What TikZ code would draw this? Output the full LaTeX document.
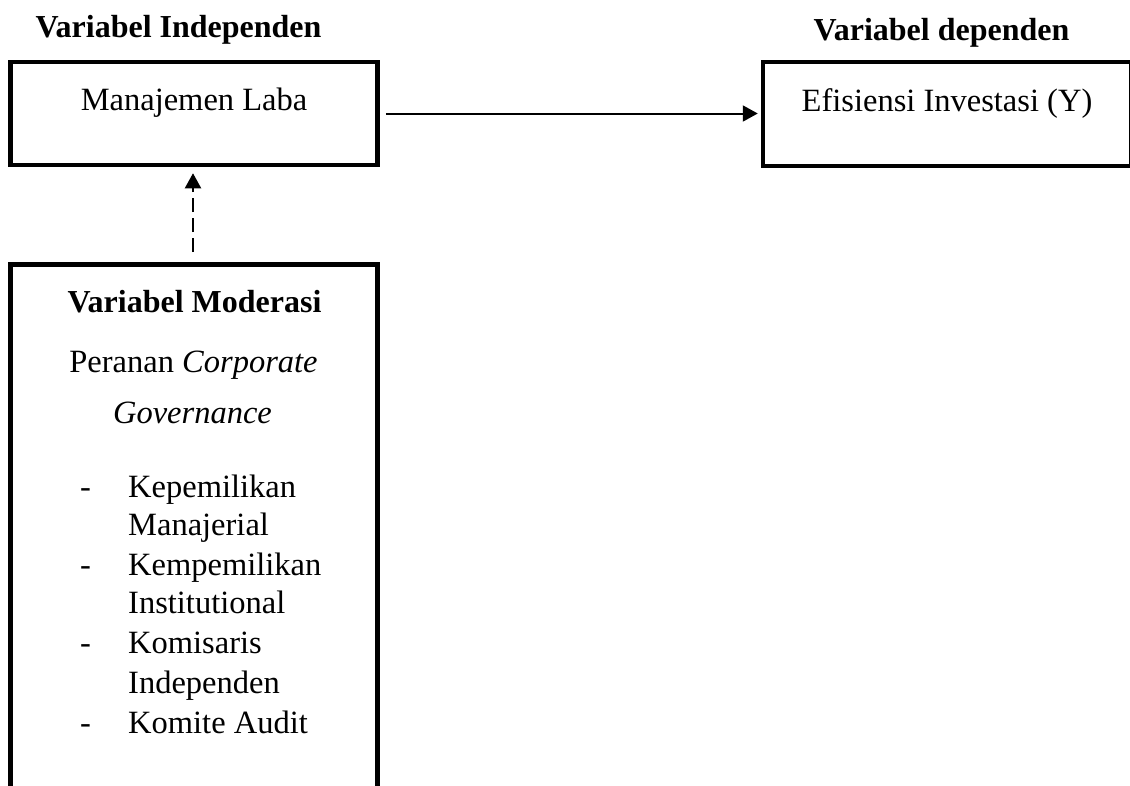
\documentclass[tikz,border=0pt]{standalone}
\usepackage{fontspec}
\setmainfont{Liberation Serif}
\usetikzlibrary{positioning,arrows.meta}

\begin{document}
\begin{tikzpicture}[x=1pt, y=-1pt,
  varbox/.style = {draw, line width = 4.5pt, inner sep = 0pt, anchor = base, minimum width = 367pt, font = \fontsize{32.5}{39}\selectfont},
  vartitle/.style = {anchor = base, inner sep = 0pt, font = \fontsize{32}{39}\selectfont\bfseries},
  vartext/.style = {anchor = base, inner sep = 0pt, font = \fontsize{32.5}{39}\selectfont},
  link/.style = {line width = 2pt, -{Triangle[length=15pt, width=16pt]}}]

\useasboundingbox (0,0) rectangle (1130,785);

% headings
\node[vartitle] (indep) at (178.5,37) {Variabel Independen};
\node[vartitle] (dep) at (941.5,40) {Variabel dependen};

% boxes
\node[varbox, text height = 48pt, text depth = 55pt] (laba) at (194,110) {Manajemen Laba};
\node[varbox, minimum width = 368pt, text height = 49pt, text depth = 55pt] (efisiensi) at (947,111) {Efisiensi Investasi (Y)};
\node[varbox, anchor = north, minimum height = 560pt] (moderasi) at (194,262) {};

% moderating variable text
\node[vartitle] (modtitle) at (194.5,312) {Variabel Moderasi};
\node[vartext] (peranan) at (193.5,372) {Peranan \textit{Corporate}};
\node[vartext] (governance) at (192.5,423) {\textit{Governance}};
\foreach \y/\t in {497/Kepemilikan, 535/Manajerial, 575/Kempemilikan, 613/Institutional, 653/Komisaris, 693/Independen, 733/Komite Audit}
  \node[vartext, anchor = base west] (item\y) at (128,\y) {\t};
\foreach \y in {497, 575, 653, 733}
  \node[vartext, anchor = base west] (dash\y) at (80,\y) {-};

% arrows
\draw[link, shorten <= 6pt, shorten >= 3pt] (laba.east) -- (efisiensi.west |- laba.east);
\draw[link, dash pattern = on 14pt off 6pt, shorten <= 10pt, shorten >= 6pt] ([xshift=-1pt]moderasi.north) -- ([xshift=-1pt]laba.south);
\end{tikzpicture}
\end{document}
